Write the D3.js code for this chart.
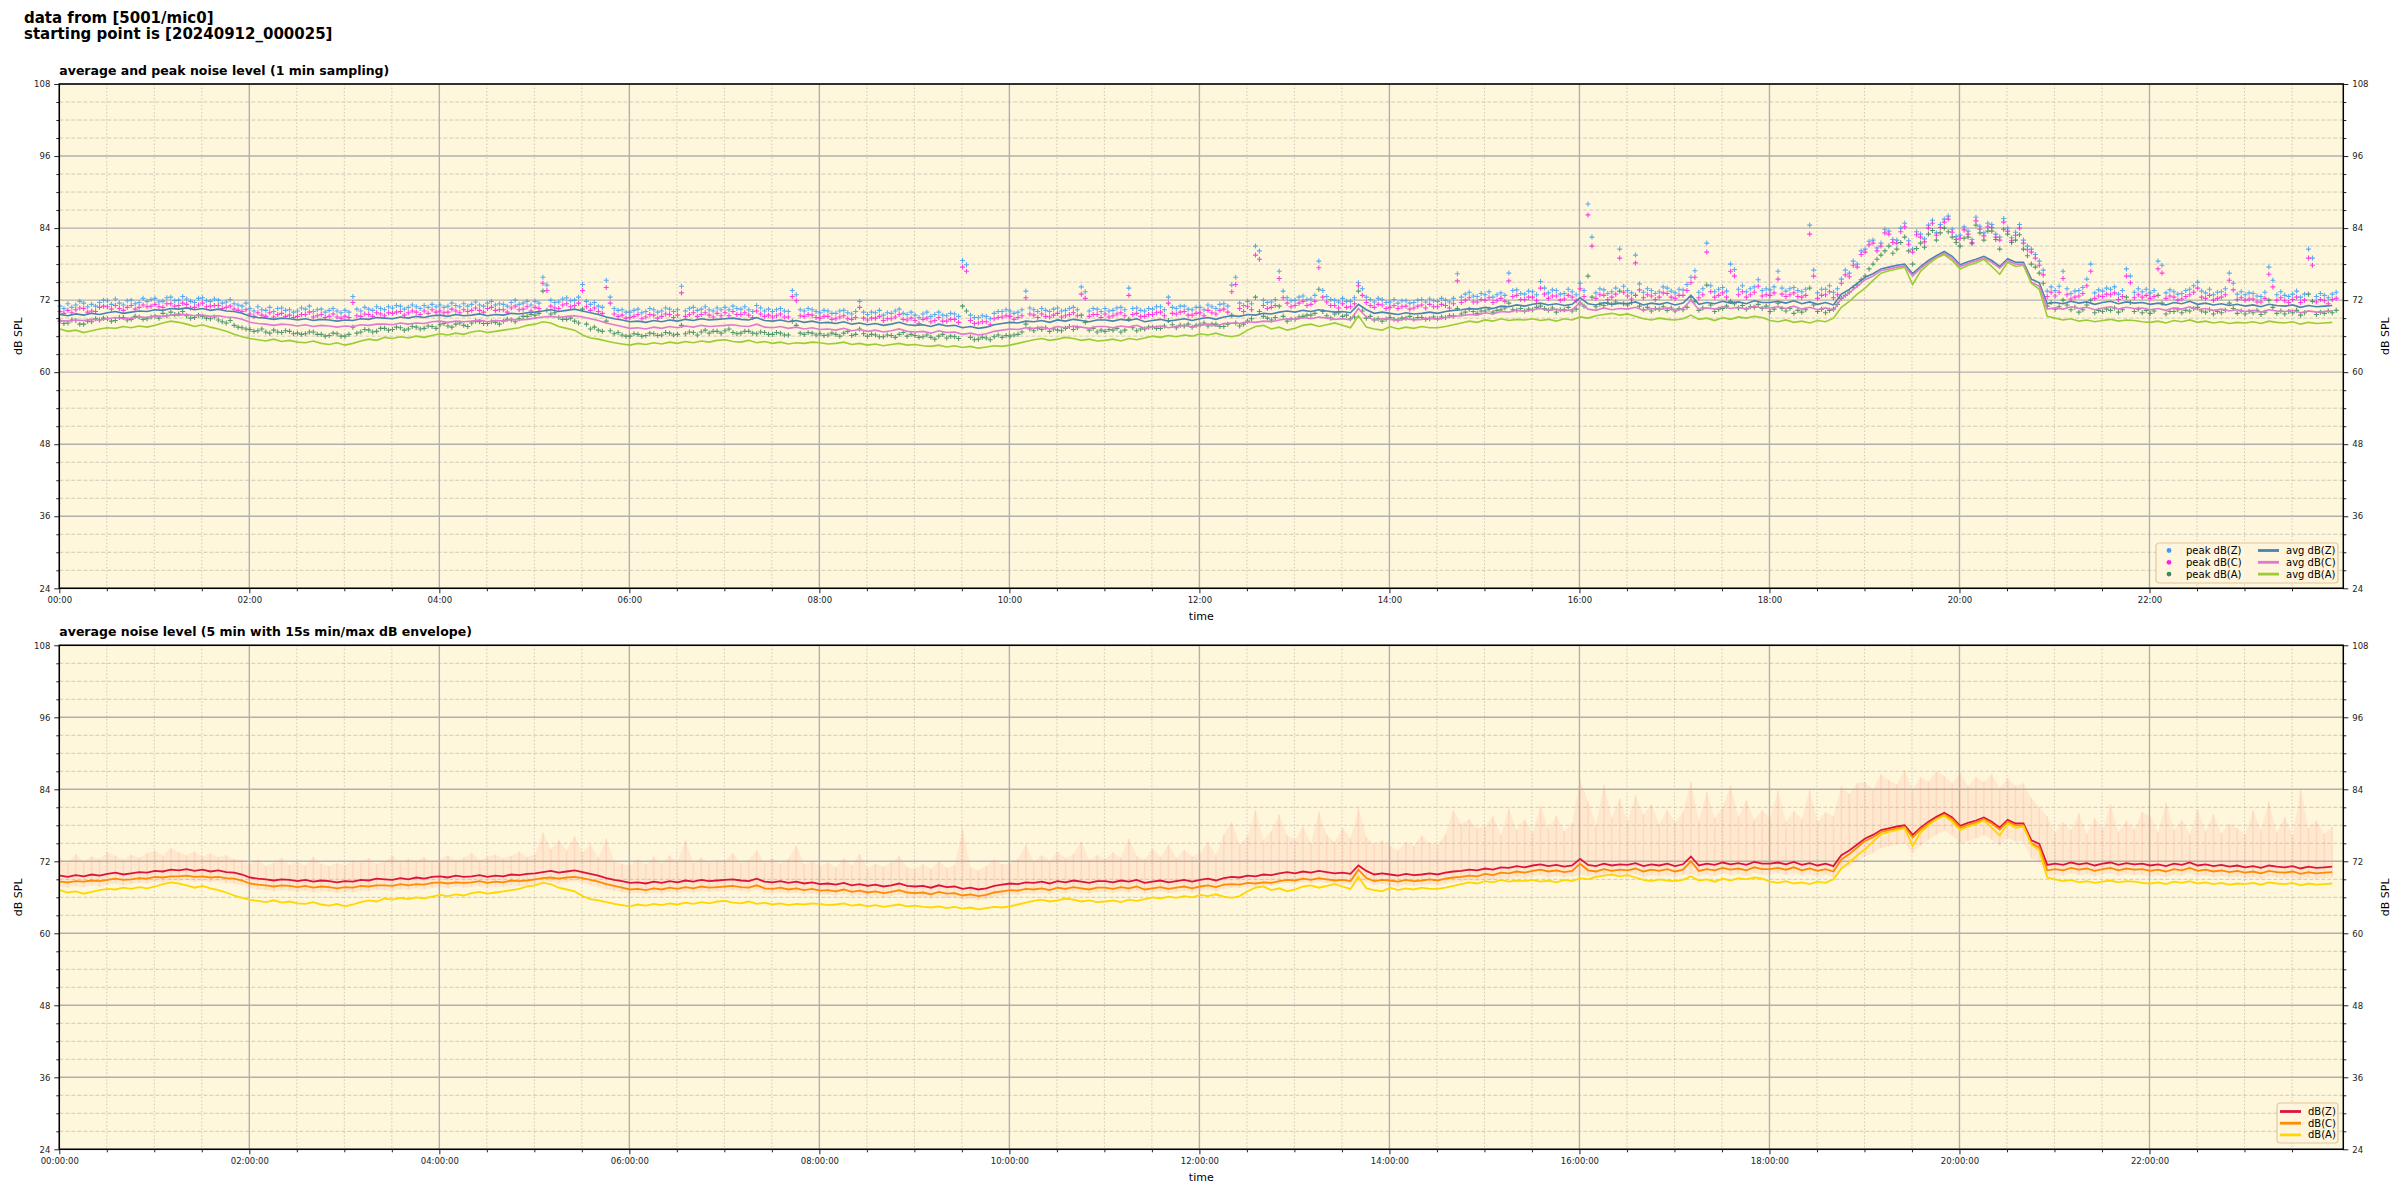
<!DOCTYPE html>
<html><head><meta charset="utf-8">
<script src="https://cdn.jsdelivr.net/npm/d3@7"></script>
<style>
body{margin:0;background:#fff;}
svg{font-family:"DejaVu Sans",sans-serif;}
</style></head><body>
<svg id="c" width="2400" height="1200"></svg>
<script>
// average levels, 5-minute samples, 00:00 .. 23:55
const avgZ = [
69.6,69.4,69.7,69.5,69.8,69.6,69.9,70.1,69.8,70.0,70.2,70.1,
70.4,70.3,70.6,70.5,70.7,70.4,70.6,70.3,70.5,70.2,70.1,69.8,
69.3,69.1,69.0,68.8,69.0,68.9,68.7,68.9,68.6,68.8,68.7,68.5,
68.7,68.6,68.9,68.8,69.1,69.0,68.9,69.2,69.0,69.3,69.1,69.4,
69.5,69.3,69.6,69.4,69.5,69.7,69.4,69.6,69.5,69.8,69.7,69.9,
70.0,70.2,70.4,70.1,70.3,70.5,70.2,69.9,69.6,69.2,68.9,68.7,
68.4,68.5,68.3,68.6,68.4,68.7,68.5,68.8,68.6,68.9,68.7,68.8,
68.9,69.0,68.8,68.7,69.1,68.6,68.5,68.7,68.4,68.6,68.3,68.5,
68.2,68.3,68.1,68.4,68.0,68.2,67.9,68.1,67.8,68.0,68.3,67.9,
67.8,67.9,67.6,68.0,67.7,67.8,67.4,67.6,67.3,67.5,67.9,68.1,
68.3,68.2,68.5,68.4,68.6,68.3,68.7,68.5,68.8,68.6,68.4,68.7,
68.7,68.5,68.8,68.6,68.9,68.4,68.6,68.8,68.5,68.7,68.9,68.6,
68.9,69.1,68.8,69.2,69.4,69.3,69.6,69.5,69.8,69.7,70.0,70.2,
70.0,70.3,70.1,70.4,70.2,70.0,70.1,69.9,71.3,70.4,69.8,70.0,
69.8,69.6,69.9,69.7,69.8,70.0,69.8,70.1,70.3,70.4,70.6,70.5,
70.8,70.6,71.0,70.9,71.2,71.0,71.3,71.5,71.2,71.4,71.1,71.3,
72.4,71.4,71.2,71.6,71.3,71.5,71.4,71.7,71.2,71.5,71.3,71.6,
71.2,71.5,72.8,71.3,71.6,71.4,71.8,71.5,71.7,71.4,71.9,71.6,
71.6,71.8,71.5,71.9,71.4,71.7,71.3,71.6,71.2,73.0,73.8,74.8,
75.8,76.4,77.2,77.5,77.8,78.0,76.4,77.6,78.6,79.4,80.1,79.3,
77.9,78.4,78.8,79.3,78.6,77.6,78.9,78.3,78.3,75.5,74.9,71.4,
71.6,71.4,71.8,71.5,71.7,71.3,71.6,71.8,71.4,71.7,71.5,71.6,
71.3,71.5,71.2,71.6,71.4,71.8,71.3,71.5,71.2,71.4,71.1,71.3,
71.0,71.2,70.9,71.3,71.1,71.0,71.2,70.8,71.1,70.9,71.0,71.1];
const avgC = [
68.6,68.5,68.7,68.6,68.8,68.7,68.9,69.1,68.9,69.0,69.2,69.1,
69.4,69.3,69.5,69.5,69.6,69.4,69.5,69.3,69.4,69.2,69.1,68.8,
68.3,68.1,68.0,67.8,68.0,67.9,67.7,67.9,67.6,67.8,67.7,67.5,
67.7,67.6,67.9,67.8,68.0,68.0,67.9,68.2,68.0,68.2,68.1,68.4,
68.5,68.3,68.5,68.4,68.5,68.7,68.4,68.6,68.5,68.8,68.7,68.8,
69.0,69.2,69.3,69.1,69.3,69.4,69.2,68.9,68.6,68.2,67.9,67.6,
67.3,67.4,67.2,67.5,67.3,67.6,67.4,67.7,67.5,67.8,67.6,67.7,
67.8,67.9,67.7,67.6,68.0,67.5,67.4,67.6,67.3,67.5,67.2,67.4,
67.1,67.2,67.0,67.3,66.9,67.1,66.8,67.0,66.7,66.9,67.2,66.8,
66.7,66.8,66.5,66.9,66.6,66.7,66.3,66.5,66.2,66.4,66.8,67.0,
67.2,67.1,67.4,67.3,67.5,67.2,67.6,67.4,67.7,67.5,67.3,67.6,
67.6,67.4,67.7,67.5,67.8,67.3,67.5,67.7,67.4,67.6,67.8,67.5,
67.8,68.0,67.7,68.1,68.2,68.1,68.4,68.3,68.5,68.4,68.7,68.9,
68.8,69.1,68.9,69.2,69.0,68.8,68.9,68.7,70.6,69.2,68.7,68.9,
68.8,68.6,68.9,68.7,68.8,69.0,68.8,69.1,69.3,69.4,69.6,69.5,
69.9,69.7,70.1,70.0,70.3,70.1,70.4,70.6,70.3,70.5,70.2,70.4,
71.6,70.5,70.3,70.7,70.4,70.6,70.5,70.8,70.3,70.6,70.4,70.7,
70.3,70.6,72.0,70.4,70.7,70.5,70.9,70.6,70.8,70.5,71.0,70.7,
70.7,70.9,70.6,71.0,70.5,70.8,70.4,70.7,70.3,72.3,73.2,74.3,
75.4,76.0,76.9,77.2,77.5,77.7,76.0,77.3,78.3,79.1,79.8,79.0,
77.6,78.1,78.5,79.0,78.3,77.3,78.6,78.0,78.0,75.0,74.3,70.5,
70.7,70.5,70.9,70.6,70.8,70.4,70.7,70.9,70.5,70.8,70.6,70.7,
70.4,70.6,70.3,70.7,70.5,70.9,70.4,70.6,70.3,70.5,70.2,70.4,
70.1,70.3,70.0,70.4,70.2,70.1,70.3,69.9,70.2,70.0,70.1,70.2];
const avgA = [
67.2,66.8,67.0,66.6,66.9,67.2,67.4,67.3,67.6,67.4,67.7,67.5,
67.8,68.2,68.5,68.3,68.0,67.6,67.9,67.5,67.2,66.8,66.3,65.9,
65.6,65.4,65.2,65.5,65.1,65.3,65.0,64.9,65.2,64.8,64.6,64.9,
64.5,64.8,65.2,65.5,65.3,65.8,65.6,65.9,65.7,66.0,65.8,66.1,
66.4,66.2,66.5,66.3,66.7,66.9,66.6,66.8,67.0,67.2,67.4,67.8,
68.0,68.4,68.2,67.6,67.3,67.0,66.2,65.7,65.5,65.2,64.9,64.7,
64.5,64.8,64.6,64.9,64.7,65.0,64.8,65.1,64.9,65.2,65.0,65.3,
65.4,65.1,65.0,65.3,64.9,65.1,64.8,65.0,64.7,64.9,64.8,65.0,
64.9,64.7,64.8,65.0,64.6,64.8,64.5,64.7,64.4,64.6,64.8,64.5,
64.6,64.4,64.3,64.5,64.2,64.4,64.1,64.3,64.0,64.2,64.4,64.3,
64.5,64.8,65.1,65.4,65.6,65.3,65.5,65.8,65.6,65.3,65.5,65.2,
65.3,65.5,65.2,65.6,65.4,65.7,66.0,65.8,66.1,65.9,66.2,66.0,
66.4,66.2,66.5,66.1,65.9,66.2,67.0,67.6,67.8,67.2,67.5,67.0,
67.3,67.8,68.0,67.6,67.9,68.2,67.8,67.4,69.4,67.5,67.2,67.0,
67.6,67.2,67.5,67.3,67.6,67.4,67.4,67.6,67.9,68.2,68.5,68.3,
68.7,68.5,68.9,68.6,68.8,68.7,68.9,68.6,68.8,68.5,68.9,68.7,
69.2,69.0,69.4,69.6,69.8,69.5,69.7,69.3,68.9,68.7,69.0,68.8,
68.7,68.9,69.5,68.8,69.0,68.6,69.1,68.8,69.2,69.0,69.3,69.1,
68.6,68.4,68.7,68.3,68.5,68.2,68.6,68.4,69.0,70.8,71.8,73.0,
74.0,75.3,76.5,76.9,77.2,77.5,74.6,76.8,78.0,79.0,79.6,78.6,
77.2,77.8,78.2,78.8,77.6,76.3,78.3,77.6,77.8,74.8,73.8,69.3,
69.0,68.7,68.9,68.5,68.7,68.4,68.6,68.8,68.5,68.7,68.6,68.4,
68.3,68.5,68.2,68.6,68.4,68.7,68.3,68.5,68.2,68.4,68.1,68.3,
68.2,68.4,68.1,68.5,68.3,68.2,68.4,68.0,68.3,68.1,68.2,68.3];

// peak levels, 2.5-minute samples, 00:00 .. 23:57:30
const peakZ = [
71.0,70.6,71.4,70.8,71.2,71.8,71.5,70.9,71.3,71.0,71.6,72.0,
71.9,71.3,72.2,71.5,71.2,71.9,72.0,71.4,71.6,72.3,71.8,72.1,
72.3,71.7,71.8,72.4,72.5,71.9,72.0,72.6,72.2,71.8,71.6,72.3,
72.4,71.9,71.8,72.2,72.0,71.5,71.7,72.1,71.4,71.2,71.0,71.5,
70.6,70.2,70.9,70.4,70.3,70.8,70.1,70.6,70.7,70.3,70.4,70.0,
70.2,70.7,70.5,71.0,70.1,70.4,70.5,70.0,70.3,70.6,70.2,69.9,
70.3,70.0,72.6,70.5,70.2,70.8,70.5,70.3,70.9,70.6,70.4,70.9,
70.7,71.1,71.0,70.5,70.8,71.2,70.9,70.6,71.1,70.8,71.3,70.9,
71.2,70.8,71.0,71.5,71.1,70.9,71.4,71.0,71.3,71.7,71.2,71.0,
71.5,71.8,71.2,71.4,71.3,71.0,71.6,72.0,71.3,71.5,71.8,71.2,
71.8,71.5,75.8,74.5,72.0,71.6,71.7,72.2,72.4,71.9,72.0,72.5,
74.6,71.8,71.3,71.6,71.0,70.8,75.3,72.5,70.6,70.3,70.4,70.0,
70.0,70.3,70.5,69.9,70.1,70.6,70.4,70.0,70.2,70.7,70.5,70.1,
70.4,74.3,70.2,70.6,70.8,70.3,70.5,70.9,70.4,70.2,70.7,70.4,
70.8,70.4,71.0,70.6,70.5,70.9,70.4,70.1,71.1,70.7,70.2,70.5,
70.1,70.4,70.6,70.2,70.1,73.6,72.9,70.4,70.2,70.6,70.4,70.1,
69.9,70.3,70.2,69.8,69.8,70.2,70.3,69.9,69.7,70.1,71.8,70.0,
69.6,70.0,69.9,70.3,69.5,69.9,69.8,70.2,70.5,69.8,69.6,70.0,
69.5,69.1,69.7,70.0,69.3,69.6,70.0,69.5,69.4,69.8,69.7,69.3,
78.6,77.9,69.5,69.1,69.1,69.4,69.3,68.9,69.8,70.1,70.1,70.4,
70.2,69.8,70.0,70.4,73.5,70.7,70.4,70.1,70.6,70.3,70.1,70.5,
70.7,70.2,70.3,70.6,70.8,70.4,74.2,73.4,70.2,70.6,70.5,70.1,
70.6,70.2,70.3,70.7,70.8,70.4,74.0,70.6,70.7,70.3,70.2,70.6,
70.5,70.9,70.9,70.4,72.5,70.8,70.6,71.0,71.0,70.5,70.4,70.8,
70.8,70.4,71.2,70.9,70.6,71.3,71.4,71.0,74.5,75.8,71.5,71.1,
71.8,71.4,81.0,80.2,72.0,71.6,71.7,72.1,76.8,73.5,72.4,71.9,
72.0,72.5,72.7,72.1,72.2,72.8,78.5,73.6,72.6,72.1,72.0,71.7,
72.3,71.8,71.8,72.4,74.9,73.9,72.5,72.1,71.7,72.3,72.1,71.6,
71.7,72.1,71.5,71.9,71.9,71.5,71.6,72.0,72.1,71.7,72.2,71.9,
71.8,72.3,72.0,71.7,72.3,76.4,72.5,73.0,73.3,72.7,72.6,73.1,
72.9,73.4,72.5,72.9,73.2,72.8,76.5,73.6,73.7,73.1,73.0,73.5,
73.4,72.9,75.1,74.0,73.2,73.7,73.6,73.0,73.1,73.8,73.4,72.9,
74.8,73.6,88.0,82.5,73.2,73.9,73.7,73.1,73.4,74.0,80.5,74.3,
73.6,73.2,79.5,74.7,73.3,73.9,73.6,73.1,73.4,74.2,74.0,73.5,
73.2,73.8,73.7,74.6,75.8,76.9,73.3,73.9,81.5,74.4,73.4,73.8,
74.1,73.5,78.0,77.1,73.8,74.4,73.4,73.9,74.2,75.4,73.6,73.9,
73.7,74.2,76.8,74.0,73.5,73.9,74.1,73.6,73.4,73.8,84.5,77.0,
73.2,73.8,73.8,74.4,73.3,73.9,75.5,77.0,76.5,78.5,78.0,80.2,
80.5,81.8,82.0,80.7,81.5,83.8,83.5,82.1,82.0,84.0,84.8,81.9,
80.5,83.4,83.0,82.2,84.5,85.3,83.2,84.6,85.5,86.0,83.8,82.6,
82.8,84.2,83.5,82.1,85.8,84.3,83.2,84.8,84.6,83.0,82.5,85.6,
84.0,82.4,83.3,84.6,82.0,81.0,80.5,79.6,78.5,77.0,73.5,74.2,
73.6,74.3,76.8,73.9,73.1,73.5,73.6,74.1,75.5,78.0,73.2,73.7,
73.5,74.0,73.8,74.2,73.0,73.6,77.2,76.0,73.3,73.9,73.4,73.8,
73.2,73.6,78.5,77.8,73.2,73.7,73.4,73.0,73.1,73.6,73.8,74.4,
75.0,73.5,73.2,73.8,72.9,73.3,73.4,73.9,76.5,74.8,73.0,73.4,
72.9,73.2,73.1,72.7,72.6,73.3,77.5,75.3,72.9,73.4,72.8,72.6,
73.0,73.5,72.5,73.0,80.5,79.0,72.6,73.1,72.8,72.4,73.0,73.3];
const peakC = [
70.1,69.8,70.3,69.9,70.4,70.7,70.6,70.0,70.2,70.1,70.8,71.0,
70.9,70.5,71.1,70.6,70.3,70.8,71.1,70.5,70.8,71.2,70.9,71.0,
71.3,70.9,70.8,71.4,71.4,71.0,71.1,71.5,71.3,70.7,70.8,71.2,
71.5,70.9,71.0,71.1,71.1,70.6,70.8,71.0,70.5,70.3,70.1,70.4,
69.7,69.3,69.9,69.5,69.3,69.9,69.2,69.6,69.8,69.3,69.5,69.1,
69.3,69.6,69.6,70.0,69.2,69.4,69.6,69.1,69.3,69.7,69.2,69.0,
69.3,69.1,71.6,69.4,69.3,69.7,69.6,69.3,69.9,69.7,69.4,69.9,
69.8,70.0,70.1,69.5,69.9,70.2,70.0,69.6,70.2,69.8,70.4,70.0,
70.2,69.9,70.0,70.5,70.2,69.9,70.4,70.1,70.3,70.7,70.3,70.0,
70.6,70.8,70.3,70.4,70.4,70.0,70.7,71.0,70.4,70.5,70.9,70.2,
70.8,70.6,74.8,73.6,71.0,70.7,70.6,71.2,71.4,70.9,71.1,71.5,
73.6,70.9,70.3,70.7,70.1,69.8,74.1,71.5,69.7,69.3,69.5,69.0,
69.1,69.3,69.6,68.9,69.2,69.6,69.5,69.0,69.3,69.7,69.6,69.1,
69.5,73.2,69.3,69.6,69.9,69.3,69.6,69.9,69.5,69.2,69.8,69.4,
69.9,69.4,70.1,69.6,69.6,69.9,69.5,69.1,70.2,69.7,69.3,69.5,
69.2,69.4,69.7,69.2,69.2,72.6,71.9,69.4,69.3,69.6,69.5,69.1,
69.0,69.3,69.3,68.8,68.9,69.2,69.4,68.9,68.8,69.1,70.8,69.0,
68.7,69.0,69.0,69.3,68.6,68.9,68.9,69.2,69.6,68.8,68.7,69.0,
68.6,68.1,68.8,69.0,68.4,68.6,69.1,68.5,68.5,68.8,68.8,68.3,
77.5,76.8,68.6,68.1,68.2,68.4,68.4,67.9,68.9,69.1,69.2,69.4,
69.3,68.8,69.1,69.4,72.4,69.7,69.5,69.1,69.7,69.3,69.2,69.5,
69.8,69.2,69.4,69.6,69.9,69.4,73.0,72.3,69.3,69.6,69.6,69.1,
69.7,69.2,69.4,69.7,69.9,69.4,72.8,69.6,69.8,69.3,69.3,69.6,
69.6,69.9,70.0,69.4,71.5,69.8,69.7,70.0,70.1,69.5,69.5,69.8,
69.9,69.4,70.3,69.9,69.7,70.3,70.5,70.0,73.4,74.6,70.6,70.1,
70.9,70.4,79.5,78.8,71.1,70.6,70.8,71.1,75.6,72.4,71.5,70.9,
71.1,71.5,71.8,71.1,71.3,71.8,77.4,72.5,71.7,71.1,71.1,70.7,
71.4,70.8,70.9,71.4,74.4,72.8,71.6,71.1,70.8,71.3,71.2,70.6,
70.8,71.1,70.6,70.9,71.0,70.5,70.7,71.0,71.2,70.7,71.3,70.9,
70.9,71.3,71.1,70.7,71.4,75.2,71.6,72.0,72.4,71.7,71.7,72.1,
72.0,72.4,71.6,71.9,72.3,71.8,75.2,72.6,72.8,72.1,72.1,72.5,
72.5,71.9,74.0,73.0,72.3,72.7,72.7,72.0,72.2,72.8,72.5,71.9,
73.9,72.6,86.2,81.0,72.3,72.9,72.8,72.1,72.5,73.0,79.0,73.3,
72.7,72.2,78.2,73.7,72.4,72.9,72.7,72.1,72.5,73.2,73.1,72.5,
72.3,72.8,72.8,73.6,74.9,75.8,72.4,72.9,80.0,73.4,72.5,72.8,
73.2,72.5,76.8,76.0,72.9,73.4,72.5,72.9,73.3,74.3,72.7,72.9,
72.8,73.2,75.5,73.0,72.6,72.9,73.2,72.6,72.5,72.8,83.0,76.0,
72.3,72.8,72.9,73.4,72.4,72.9,74.8,76.2,75.9,77.8,77.5,79.6,
80.0,81.2,81.5,80.2,81.0,83.2,83.0,81.6,81.5,83.4,84.2,81.3,
80.0,82.9,82.5,81.7,84.0,84.8,82.8,84.1,85.0,85.5,83.3,82.1,
82.3,83.7,83.0,81.6,85.2,83.8,82.7,84.2,84.1,82.5,82.0,85.0,
83.5,81.9,82.8,84.0,81.5,80.4,80.0,79.0,77.8,76.2,72.6,73.3,
72.7,73.3,75.6,72.9,72.2,72.5,72.7,73.1,74.4,76.8,72.3,72.7,
72.6,73.0,72.9,73.2,72.1,72.6,76.0,74.9,72.4,72.9,72.5,72.8,
72.3,72.6,77.2,76.5,72.3,72.7,72.5,72.0,72.2,72.6,72.9,73.3,
74.0,72.5,72.3,72.8,72.0,72.3,72.5,72.9,75.3,73.7,72.1,72.4,
72.0,72.2,72.2,71.7,71.7,72.3,76.3,74.2,72.0,72.4,71.9,71.6,
72.1,72.5,71.6,72.0,79.0,77.8,71.7,72.1,71.9,71.4,72.1,72.3];
const peakA = [
68.5,68.1,68.2,68.7,68.6,68.0,68.0,68.5,68.4,68.9,68.7,69.0,
68.9,68.5,68.6,69.1,69.1,68.7,68.8,69.3,69.2,68.8,68.9,69.2,
69.3,69.0,69.8,69.4,70.0,69.6,69.7,70.1,69.4,69.0,69.1,69.5,
69.3,69.0,68.9,69.2,68.7,68.4,68.2,68.6,67.8,67.5,67.4,67.2,
67.1,66.8,66.9,67.2,66.7,66.5,67.0,66.7,66.6,66.9,66.8,66.4,
66.5,66.3,66.4,66.7,66.7,66.3,66.3,66.0,66.1,66.5,66.4,66.0,
66.0,66.3,67.5,66.5,66.7,67.1,67.0,66.7,66.8,67.3,67.3,67.0,
67.1,67.5,67.4,67.0,67.2,67.6,67.5,67.2,67.3,67.7,67.6,67.3,
67.9,68.1,67.7,67.5,68.0,68.2,67.8,67.6,68.2,68.5,68.4,68.1,
68.1,68.4,68.3,68.0,68.5,68.8,68.7,68.4,68.9,69.3,69.3,69.6,
69.5,69.8,73.5,70.3,69.7,69.9,69.1,68.8,68.8,69.0,68.5,68.2,
70.5,68.0,67.2,67.5,67.0,66.8,68.5,66.9,66.4,66.6,66.2,66.0,
66.0,66.4,66.3,66.0,66.1,66.5,66.4,66.1,66.2,66.6,66.5,66.2,
66.3,67.8,66.4,66.7,66.6,66.2,66.7,67.0,66.5,66.8,66.8,66.5,
66.9,67.2,66.6,66.4,66.5,66.8,66.8,66.5,66.4,66.7,66.6,66.3,
66.3,66.6,66.5,66.2,66.2,68.5,67.8,66.5,66.3,66.6,66.5,66.2,
66.4,66.1,66.2,66.5,66.3,66.0,66.5,66.8,66.1,66.3,67.2,66.4,
66.0,66.3,66.2,65.9,65.9,66.2,66.1,65.8,66.3,66.6,66.0,66.3,
66.1,65.8,65.9,66.2,65.8,65.5,66.0,66.3,65.7,66.0,65.9,65.6,
71.0,70.2,65.8,65.4,65.5,65.8,65.7,65.4,65.9,66.2,65.8,66.1,
66.0,66.2,66.3,66.7,68.0,67.2,66.9,67.3,67.1,67.4,66.8,67.2,
67.0,66.9,67.3,67.6,67.1,67.4,69.5,68.3,67.0,67.3,66.7,67.0,
66.8,67.1,67.0,67.3,66.7,67.0,68.8,67.4,66.9,67.2,67.2,67.5,
67.5,67.3,67.3,67.7,68.6,67.9,67.4,67.8,67.7,68.0,67.5,67.8,
67.9,68.2,67.7,68.0,68.0,67.6,67.6,68.0,69.5,68.2,67.7,68.0,
68.5,68.9,72.5,70.1,69.3,69.0,68.7,69.1,71.0,69.3,68.5,68.8,
68.8,69.2,69.3,69.5,69.5,69.8,73.8,70.1,69.4,69.0,69.7,69.9,
69.3,69.5,68.9,69.2,73.5,70.2,69.0,69.3,68.7,68.9,68.5,68.8,
69.1,68.8,68.7,69.0,69.0,69.3,68.8,69.1,69.1,68.8,68.9,69.2,
68.9,69.2,69.1,69.4,69.4,70.6,69.7,70.0,70.5,70.1,69.8,70.2,
70.2,70.5,70.0,70.3,70.4,70.7,71.5,70.4,70.3,70.6,70.2,70.5,
70.4,70.8,71.0,70.6,70.3,70.7,70.0,70.4,70.4,70.8,70.2,70.5,
71.5,71.0,76.0,72.5,70.9,71.3,71.1,71.5,71.3,71.7,73.5,71.4,
71.2,71.6,72.8,71.0,70.4,70.8,70.2,70.6,70.5,70.9,70.3,70.7,
70.2,70.6,70.4,70.8,72.5,71.8,70.3,70.7,74.5,71.2,70.1,70.5,
70.6,71.0,71.8,71.4,70.7,71.1,70.5,70.9,70.8,71.3,70.6,71.0,
70.1,70.5,71.5,70.6,70.2,70.6,69.8,70.3,70.0,70.4,74.0,71.2,
70.1,70.5,69.9,70.3,70.5,71.3,72.3,72.8,73.3,74.1,74.5,75.4,
76.0,77.2,78.0,78.8,79.5,80.2,81.0,79.8,80.5,81.6,82.5,80.2,
78.0,80.6,81.5,80.8,83.0,83.6,82.0,83.2,84.0,83.4,82.5,81.6,
81.0,82.3,82.5,81.4,84.5,83.2,82.0,83.5,83.5,82.1,80.5,83.8,
83.0,81.6,82.0,82.9,80.5,79.4,78.0,77.5,76.5,74.8,71.0,71.6,
70.5,70.9,72.0,71.2,70.4,70.8,70.0,70.4,71.2,72.0,69.9,70.3,
70.1,70.5,70.3,70.7,70.0,70.4,72.5,71.6,70.1,70.5,69.9,70.3,
69.8,70.2,72.8,71.5,69.7,70.1,70.1,70.4,69.9,70.3,70.2,70.6,
70.8,70.2,70.0,70.4,69.7,70.1,69.9,70.3,71.5,70.6,69.8,70.2,
69.7,70.1,69.9,70.3,69.6,70.0,72.0,70.8,69.8,70.2,69.7,70.1,
69.9,70.3,69.5,69.9,73.0,71.8,69.6,70.0,69.8,70.2,69.9,70.3];

// 15 s min/max envelope, 5-minute samples
const envMax = [
72.5,71.8,73.2,72.0,72.8,72.4,73.5,72.9,72.3,73.1,72.6,73.4,
73.8,72.9,74.2,73.5,73.0,73.6,72.8,73.3,72.7,73.0,72.4,72.2,
71.5,72.3,71.2,71.8,72.6,71.4,71.9,71.3,72.8,71.6,71.2,71.7,
71.4,72.2,71.8,72.5,71.6,72.0,72.9,71.8,72.4,72.1,72.7,71.9,
72.3,73.0,72.1,72.6,73.4,72.2,72.8,73.1,72.5,72.9,73.6,72.7,
73.2,76.8,74.0,75.5,73.8,76.2,73.5,74.8,72.6,75.8,72.0,71.6,
71.3,72.4,71.5,72.8,71.6,73.0,71.9,75.5,71.7,72.6,71.8,72.3,
72.1,73.4,71.7,72.2,73.8,71.8,72.5,71.6,72.4,74.6,71.5,72.0,
71.2,71.8,71.0,72.5,71.3,73.2,70.9,71.6,71.1,71.8,72.9,71.0,
70.8,71.5,70.7,72.0,70.9,71.4,77.5,71.0,70.5,71.2,72.3,71.5,
71.6,72.4,74.8,71.9,73.0,72.1,73.6,72.5,73.2,75.3,72.2,73.0,
72.4,73.5,72.6,75.8,72.9,72.3,74.1,72.7,74.8,72.5,73.9,72.8,
73.4,75.2,73.0,76.5,78.5,74.8,76.2,80.5,75.5,77.0,79.8,76.3,
75.6,77.8,75.0,80.2,76.4,75.2,77.5,75.8,80.8,76.0,74.9,75.5,
74.6,73.8,75.2,74.5,76.3,75.0,74.8,76.5,80.5,78.2,79.0,77.5,
77.8,79.5,76.4,80.8,77.2,79.0,76.8,81.2,77.5,79.6,77.0,78.4,
85.5,82.0,78.0,84.8,79.2,82.5,78.6,83.0,79.8,81.5,78.2,80.6,
78.5,80.2,85.3,78.8,83.5,79.2,81.0,84.6,79.4,82.2,78.9,80.5,
79.2,83.8,78.5,80.4,79.0,84.0,78.6,80.2,79.5,84.5,83.2,85.0,
85.2,84.0,86.5,85.5,84.8,87.2,84.0,86.0,85.3,87.0,86.2,85.0,
86.8,84.5,86.0,85.2,86.5,84.2,85.8,84.6,85.0,82.5,81.0,79.5,
76.8,78.5,77.2,80.0,76.5,79.2,77.4,81.5,76.9,78.8,77.3,80.2,
79.5,76.8,81.8,77.2,78.9,76.5,80.6,77.0,79.8,76.7,78.3,77.5,
76.5,80.5,77.2,82.0,76.8,79.4,76.3,84.0,77.5,78.8,76.6,77.8];
const envMin = [
67.8,67.6,67.9,67.7,68.0,67.8,68.1,68.3,68.0,68.2,68.4,68.3,
68.6,68.5,68.8,68.7,68.9,68.6,68.8,68.5,68.7,68.4,68.3,68.0,
67.5,67.3,67.2,67.0,67.2,67.1,66.9,67.1,66.8,67.0,66.9,66.7,
66.9,66.8,67.1,67.0,67.3,67.2,67.1,67.4,67.2,67.5,67.3,67.6,
67.7,67.5,67.8,67.6,67.7,67.9,67.6,67.8,67.7,68.0,67.9,68.1,
68.2,68.4,68.6,68.3,68.5,68.7,68.4,68.1,67.8,67.4,67.1,66.9,
66.6,66.7,66.5,66.8,66.6,66.9,66.7,67.0,66.8,67.1,66.9,67.0,
67.1,67.2,67.0,66.9,67.3,66.8,66.7,66.9,66.6,66.8,66.5,66.7,
66.4,66.5,66.3,66.6,66.2,66.4,66.1,66.3,66.0,66.2,66.5,66.1,
66.0,66.1,65.8,66.2,65.9,66.0,65.6,65.8,65.5,65.7,66.1,66.3,
66.5,66.4,66.7,66.6,66.8,66.5,66.9,66.7,67.0,66.8,66.6,66.9,
66.9,66.7,67.0,66.8,67.1,66.6,66.8,67.0,66.7,66.9,67.1,66.8,
67.1,67.3,67.0,67.4,67.6,67.5,67.8,67.7,68.0,67.9,68.2,68.4,
68.2,68.5,68.3,68.6,68.4,68.2,68.3,68.1,68.6,68.6,68.0,68.2,
68.0,67.8,68.1,67.9,68.0,68.2,68.0,68.3,68.5,68.6,68.8,68.7,
69.0,68.8,69.2,69.1,69.4,69.2,69.5,69.7,69.4,69.6,69.3,69.5,
69.8,69.6,69.4,69.8,69.5,69.7,69.6,69.9,69.4,69.7,69.5,69.8,
69.4,69.7,69.9,69.5,69.8,69.6,70.0,69.7,69.9,69.6,70.1,69.8,
69.8,70.0,69.7,70.1,69.6,69.9,69.5,69.8,69.4,70.6,71.2,72.0,
72.8,73.4,74.2,74.5,74.8,75.0,73.4,74.6,75.6,76.4,77.1,76.3,
74.9,75.4,75.8,76.3,75.6,74.6,75.9,75.3,75.3,72.5,71.9,69.6,
69.8,69.6,70.0,69.7,69.9,69.5,69.8,70.0,69.6,69.9,69.7,69.8,
69.5,69.7,69.4,69.8,69.6,70.0,69.5,69.7,69.4,69.6,69.3,69.5,
69.2,69.4,69.1,69.5,69.3,69.2,69.4,69.0,69.3,69.1,69.2,69.3];

const majorHours = [0,2,4,6,8,10,12,14,16,18,20,22];
const topTickLabels = ["00:00","02:00","04:00","06:00","08:00","10:00","12:00","14:00","16:00","18:00","20:00","22:00"];
const botTickLabels = ["00:00:00","02:00:00","04:00:00","06:00:00","08:00:00","10:00:00","12:00:00","14:00:00","16:00:00","18:00:00","20:00:00","22:00:00"];
const yMajor = [24,36,48,60,72,84,96,108];
const topLegend = ["peak dB(Z)","peak dB(C)","peak dB(A)","avg dB(Z)","avg dB(C)","avg dB(A)"];
const botLegend = ["dB(Z)","dB(C)","dB(A)"];

const tAvg = avgZ.map((_, i) => i * 5 / 60 + 25 / 3600);
const tPeak = peakZ.map((_, i) => i * 2.5 / 60 + 25 / 3600);

const svg = d3.select("#c");
const X0 = 59.3, X1 = 2343.3;
const x = d3.scaleLinear().domain([0, 24.04]).range([X0, X1]);
const BG = "#fff7dc";
const GRIDMAJ = "#b0b0b0";
const GRIDMIN = "#c8c4b8";

svg.append("text").attr("x", 24).attr("y", 23).attr("font-size", 15).attr("font-weight", "bold").text("data from [5001/mic0]");
svg.append("text").attr("x", 24).attr("y", 39).attr("font-size", 15).attr("font-weight", "bold").text("starting point is [20240912_000025]");

function panel(top, bottom, title, labels) {
  const y = d3.scaleLinear().domain([24, 108]).range([bottom, top]);
  const g = svg.append("g");
  g.append("rect").attr("x", X0).attr("y", top).attr("width", X1 - X0).attr("height", bottom - top).attr("fill", BG);
  const yMinor = d3.range(24, 108.1, 3).filter(v => (v - 24) % 12 !== 0);
  g.selectAll(".hmin").data(yMinor).join("line")
    .attr("x1", X0).attr("x2", X1).attr("y1", d => y(d)).attr("y2", d => y(d))
    .attr("stroke", GRIDMIN).attr("stroke-width", 0.9).attr("stroke-dasharray", "4,2");
  const xMinor = d3.range(0.5, 24.01, 0.5).filter(h => h % 2 !== 0);
  g.selectAll(".vmin").data(xMinor).join("line")
    .attr("x1", d => x(d)).attr("x2", d => x(d)).attr("y1", top).attr("y2", bottom)
    .attr("stroke", GRIDMIN).attr("stroke-width", 0.9).attr("stroke-dasharray", "1.5,2");
  g.selectAll(".hmaj").data(yMajor).join("line")
    .attr("x1", X0).attr("x2", X1).attr("y1", d => y(d)).attr("y2", d => y(d))
    .attr("stroke", GRIDMAJ).attr("stroke-width", 1.4);
  g.selectAll(".vmaj").data(majorHours).join("line")
    .attr("x1", d => x(d)).attr("x2", d => x(d)).attr("y1", top).attr("y2", bottom)
    .attr("stroke", GRIDMAJ).attr("stroke-width", 1.4);

  const fmt = d3.scaleOrdinal().domain(majorHours).range(labels);
  const ax = g.append("g").attr("transform", `translate(0,${bottom})`)
    .call(d3.axisBottom(x).tickValues(majorHours).tickSize(5).tickPadding(4).tickFormat(d => fmt(d)));
  const axm = g.append("g").attr("transform", `translate(0,${bottom})`)
    .call(d3.axisBottom(x).tickValues(xMinor.filter(h => h < 24.04)).tickSize(3).tickFormat(""));
  const ayl = g.append("g").attr("transform", `translate(${X0},0)`)
    .call(d3.axisLeft(y).tickValues(yMajor).tickSize(5).tickPadding(4));
  const aylm = g.append("g").attr("transform", `translate(${X0},0)`)
    .call(d3.axisLeft(y).tickValues(yMinor).tickSize(3).tickFormat(""));
  const ayr = g.append("g").attr("transform", `translate(${X1},0)`)
    .call(d3.axisRight(y).tickValues(yMajor).tickSize(5).tickPadding(4));
  const ayrm = g.append("g").attr("transform", `translate(${X1},0)`)
    .call(d3.axisRight(y).tickValues(yMinor).tickSize(3).tickFormat(""));
  [ax, axm, ayl, aylm, ayr, ayrm].forEach(a => {
    a.select(".domain").remove();
    a.selectAll("line").attr("stroke", "#222").attr("stroke-width", 1);
    a.selectAll("text").attr("font-family", "DejaVu Sans").attr("font-size", 8.5).attr("fill", "#222");
  });

  svg.append("text").attr("x", X0).attr("y", top - 9).attr("font-size", 12.5).attr("font-weight", "bold").text(title);
  svg.append("text").attr("x", (X0 + X1) / 2).attr("y", bottom + 32).attr("text-anchor", "middle").attr("font-size", 11).text("time");
  svg.append("text").attr("transform", `translate(22,${(top + bottom) / 2}) rotate(-90)`).attr("text-anchor", "middle").attr("font-size", 11).text("dB SPL");
  svg.append("text").attr("transform", `translate(2389,${(top + bottom) / 2}) rotate(-90)`).attr("text-anchor", "middle").attr("font-size", 11).text("dB SPL");

  const plot = svg.append("g");
  const frame = () => svg.append("rect").attr("x", X0).attr("y", top).attr("width", X1 - X0).attr("height", bottom - top)
    .attr("fill", "none").attr("stroke", "#000").attr("stroke-width", 1.5);
  return { y, plot, frame };
}

// ---------- top panel ----------
const P1 = panel(84, 588.3, "average and peak noise level (1 min sampling)", topTickLabels);
const peakColors = ["#3d9df5", "#ff1ee8", "#3a8a5a"];
const avgColors = ["#4a82b0", "#e07ad0", "#9acd32"];
const plus = "M-2.5,0H2.5M0,-2.5V2.5";
[peakZ, peakC, peakA].forEach((arr, k) => {
  P1.plot.append("g").selectAll("path").data(arr).join("path")
    .attr("d", plus)
    .attr("transform", (d, i) => `translate(${x(tPeak[i])},${P1.y(d)})`)
    .attr("stroke", peakColors[k]).attr("stroke-width", 1.1).attr("fill", "none").attr("opacity", 0.85);
});
[avgZ, avgC, avgA].forEach((arr, k) => {
  P1.plot.append("path").datum(arr)
    .attr("d", d3.line().x((d, i) => x(tAvg[i])).y(d => P1.y(d)))
    .attr("fill", "none").attr("stroke", avgColors[k]).attr("stroke-width", 1.6);
});
P1.frame();

{
  const lg = svg.append("g").attr("transform", "translate(2156,543)");
  lg.append("rect").attr("width", 182).attr("height", 40).attr("rx", 3)
    .attr("fill", "#fff5dc").attr("stroke", "#e0c8a0").attr("stroke-width", 1.2);
  for (let r = 0; r < 3; r++) {
    const cy = 7.5 + r * 11.8;
    lg.append("circle").attr("cx", 13).attr("cy", cy).attr("r", 2.4).attr("fill", peakColors[r]);
    lg.append("text").attr("x", 30).attr("y", cy + 3.4).attr("font-size", 10).text(topLegend[r]);
    lg.append("line").attr("x1", 102).attr("x2", 123).attr("y1", cy).attr("y2", cy)
      .attr("stroke", avgColors[r]).attr("stroke-width", 2.8);
    lg.append("text").attr("x", 130).attr("y", cy + 3.4).attr("font-size", 10).text(topLegend[r + 3]);
  }
}

// ---------- bottom panel ----------
const P2 = panel(645.3, 1149.3, "average noise level (5 min with 15s min/max dB envelope)", botTickLabels);
const lineColors = ["#dc143c", "#ff8c00", "#ffd700"];
P2.plot.append("path").datum(envMax)
  .attr("d", d3.area().x((d, i) => x(tAvg[i])).y0((d, i) => P2.y(envMin[i])).y1(d => P2.y(d)))
  .attr("fill", "#f59a85").attr("opacity", 0.15);
P2.plot.append("g").selectAll("line").data(envMax).join("line")
  .attr("x1", (d, i) => x(tAvg[i])).attr("x2", (d, i) => x(tAvg[i]))
  .attr("y1", (d, i) => P2.y(envMin[i])).attr("y2", d => P2.y(d))
  .attr("stroke", "#f59a85").attr("stroke-width", 1.5).attr("opacity", 0.2);
[avgZ, avgC, avgA].forEach((arr, k) => {
  P2.plot.append("path").datum(arr)
    .attr("d", d3.line().x((d, i) => x(tAvg[i])).y(d => P2.y(d)))
    .attr("fill", "none").attr("stroke", lineColors[k]).attr("stroke-width", 1.8);
});
P2.frame();
{
  const lg = svg.append("g").attr("transform", "translate(2277,1103)");
  lg.append("rect").attr("width", 61).attr("height", 40).attr("rx", 3)
    .attr("fill", "#fff5dc").attr("stroke", "#e0c8a0").attr("stroke-width", 1.2);
  for (let r = 0; r < 3; r++) {
    const cy = 8.5 + r * 11.7;
    lg.append("line").attr("x1", 3).attr("x2", 24).attr("y1", cy).attr("y2", cy)
      .attr("stroke", lineColors[r]).attr("stroke-width", 2.8);
    lg.append("text").attr("x", 31).attr("y", cy + 3.4).attr("font-size", 10).text(botLegend[r]);
  }
}
</script></body></html>
